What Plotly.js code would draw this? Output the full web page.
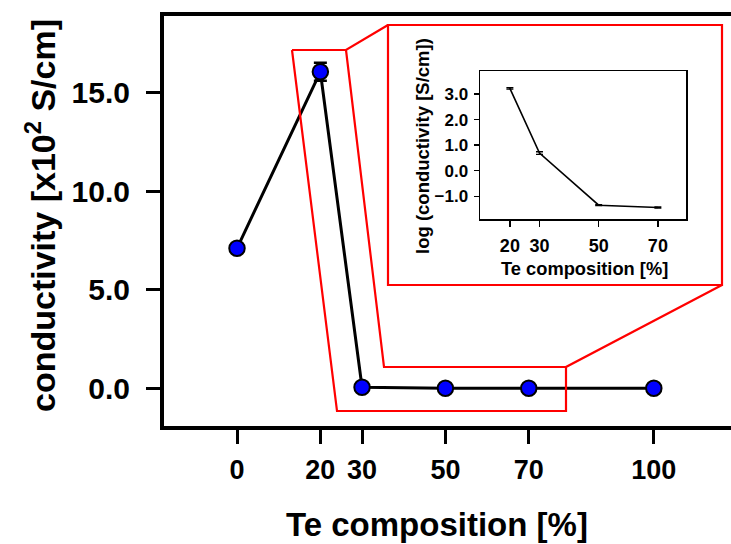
<!DOCTYPE html>
<html>
<head>
<meta charset="utf-8">
<script src="https://cdn.plot.ly/plotly-3.0.1.min.js"></script>
<style>
  html, body { margin: 0; padding: 0; overflow: hidden; background: #ffffff; }
  #chart { width: 780px; height: 544px; }
</style>
</head>
<body>
<div id="chart"></div>
<script>
// Electrical conductivity versus Te composition
const composition = [0, 20, 30, 50, 70, 100];          // Te composition [%]
const conductivity = [7.1, 16.05, 0.05, 0.0, 0.0, 0.0]; // x10^2 S/cm
const conductivityErr = [0.05, 0.46, 0.02, 0, 0, 0];

// Inset: log10 of conductivity in S/cm
const insetComposition = [20, 30, 50, 70];
const logConductivity = [3.22, 0.69, -1.35, -1.44];
const logConductivityErr = [0.03, 0.05, 0.02, 0.02];

const mainXTicks = [0, 20, 30, 50, 70, 100];
const mainYTicks = [0, 5, 10, 15];
const insetXTicks = [20, 30, 50, 70];
const insetYTicks = [-1, 0, 1, 2, 3];

// Page geometry (pixels); the plot frame runs past the right edge of the page
const W = 780, H = 544;
const plotL = 164, plotR = 770, plotT = 16, plotB = 426;
const px = x => (x - plotL) / (plotR - plotL);
const py = y => (plotB - y) / (plotB - plotT);

// Main axis scale: pixel of the origin and pixels per unit
const X0 = 237, XS = 4.168;
const Y0 = 388.3, YS = 19.72;

const FONT = 'Liberation Sans, Arial, Helvetica, sans-serif';

const mainTrace = {
  x: composition, y: conductivity,
  xaxis: 'x', yaxis: 'y',
  type: 'scatter', mode: 'lines+markers',
  line: { color: '#000000', width: 3 },
  marker: { color: '#0000ff', size: 15.5, line: { color: '#000000', width: 2 } },
  error_y: { type: 'data', array: conductivityErr, visible: true,
             color: '#000000', thickness: 2.5, width: 6.5 },
  hoverinfo: 'skip', showlegend: false
};

const insetTrace = {
  x: insetComposition, y: logConductivity,
  xaxis: 'x2', yaxis: 'y2',
  type: 'scatter', mode: 'lines',
  line: { color: '#000000', width: 1.6 },
  error_y: { type: 'data', array: logConductivityErr, visible: true,
             color: '#000000', thickness: 1.3, width: 3.5 },
  hoverinfo: 'skip', showlegend: false
};

const redLine = { color: '#ff0000', width: 2.2 };
const seg = (pts, closed) => {
  let d = 'M ' + pts.map(p => px(p[0]) + ',' + py(p[1])).join(' L ');
  if (closed) d += ' Z';
  return { type: 'path', xref: 'paper', yref: 'paper', path: d, line: redLine, layer: 'above' };
};

// Magnifier callout linking the low-conductivity region to the inset
const shapes = [
  seg([[388, 25], [722, 25], [722, 285], [388, 285]], true),
  seg([[292, 50], [346, 50], [388, 25]], false),
  seg([[292, 50], [337, 411], [566, 411], [566, 367], [722, 285]], false),
  seg([[346, 50], [384, 367], [566, 367]], false)
];

const annotations = [
  { text: '<b>Te composition [%]</b>', xref: 'paper', yref: 'paper',
    x: px(437), y: py(524), showarrow: false,
    font: { family: FONT, size: 33, color: '#000000' }, xanchor: 'center', yanchor: 'middle' },
  { text: '<b>conductivity [x10<sup>2</sup> S/cm]</b>', xref: 'paper', yref: 'paper',
    x: px(40), y: py(216), showarrow: false, textangle: -90,
    font: { family: FONT, size: 34, color: '#000000' }, xanchor: 'center', yanchor: 'middle' },
  { text: '<b>Te composition [%]</b>', xref: 'paper', yref: 'paper',
    x: px(584), y: py(268), showarrow: false,
    font: { family: FONT, size: 18.3, color: '#000000' }, xanchor: 'center', yanchor: 'middle' },
  { text: '<b>log (conductivity [S/cm])</b>', xref: 'paper', yref: 'paper',
    x: px(423), y: py(146), showarrow: false, textangle: -90,
    font: { family: FONT, size: 18.5, color: '#000000' }, xanchor: 'center', yanchor: 'middle' }
];

const layout = {
  width: W, height: H, autosize: false,
  margin: { l: plotL, r: W - plotR, t: plotT, b: H - plotB, pad: 0 },
  paper_bgcolor: '#ffffff', plot_bgcolor: '#ffffff',
  showlegend: false,
  xaxis: {
    range: [(plotL - X0) / XS, (plotR - X0) / XS],
    domain: [0, 1],
    tickvals: mainXTicks, ticktext: mainXTicks.map(String),
    ticks: 'outside', ticklen: 14, tickwidth: 3, tickcolor: '#000000',
    showline: true, linewidth: 4, linecolor: '#000000', mirror: true,
    showgrid: false, zeroline: false,
    tickfont: { family: FONT, size: 27, color: '#000000', weight: 'bold' },
    ticklabelstandoff: 3
  },
  yaxis: {
    range: [-(plotB - Y0) / YS, (Y0 - plotT) / YS],
    domain: [0, 1],
    tickvals: mainYTicks, tickformat: '.1f',
    ticks: 'outside', ticklen: 14, tickwidth: 3, tickcolor: '#000000',
    showline: true, linewidth: 4, linecolor: '#000000', mirror: true,
    showgrid: false, zeroline: false,
    tickfont: { family: FONT, size: 30, color: '#000000', weight: 'bold' },
    ticklabelstandoff: 10
  },
  xaxis2: {
    anchor: 'y2', domain: [px(480), px(686)],
    range: [9.9, 79.5],
    tickvals: insetXTicks, ticktext: insetXTicks.map(String),
    ticks: 'outside', ticklen: 6, tickwidth: 1.3, tickcolor: '#000000',
    showline: true, linewidth: 1.5, linecolor: '#000000', mirror: true,
    showgrid: false, zeroline: false,
    tickfont: { family: FONT, size: 18, color: '#000000', weight: 'bold' },
    ticklabelstandoff: 4
  },
  yaxis2: {
    anchor: 'x2', domain: [py(219), py(71)],
    range: [-1.89, 3.9],
    tickvals: insetYTicks, tickformat: '.1f',
    ticks: 'outside', ticklen: 5, tickwidth: 1.3, tickcolor: '#000000',
    showline: true, linewidth: 1.5, linecolor: '#000000', mirror: true,
    showgrid: false, zeroline: false,
    tickfont: { family: FONT, size: 17, color: '#000000', weight: 'bold' },
    ticklabelstandoff: 2
  },
  shapes: shapes,
  annotations: annotations
};

Plotly.newPlot('chart', [mainTrace, insetTrace], layout, { staticPlot: true, displayModeBar: false });
</script>
</body>
</html>
